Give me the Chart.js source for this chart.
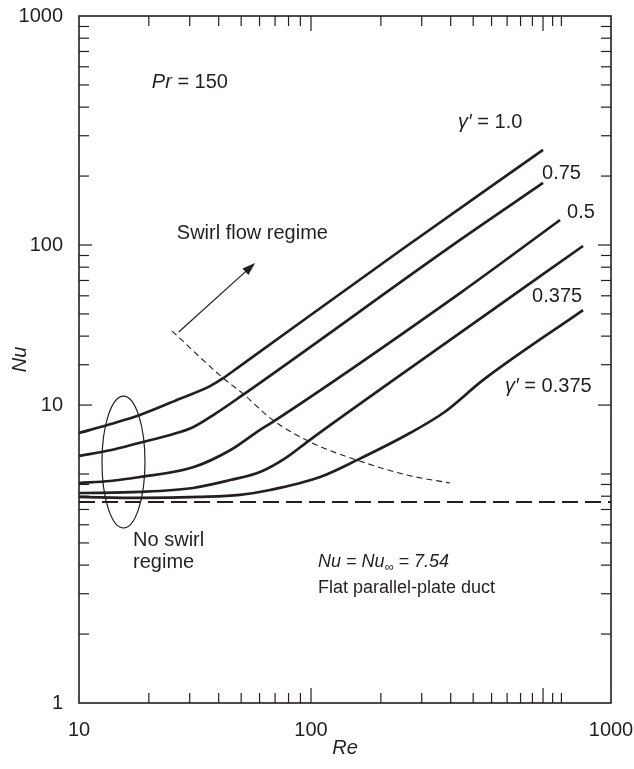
<!DOCTYPE html>
<html>
<head>
<meta charset="utf-8">
<script src="https://cdn.jsdelivr.net/npm/chart.js@4.4.1/dist/chart.umd.min.js"></script>
<style>
  html, body { margin: 0; padding: 0; background: #fff; }
  #wrap { width: 634px; height: 769px; }
</style>
</head>
<body>
<div id="wrap"><canvas id="nuChart" width="634" height="769"></canvas></div>
<script>
// Nu vs Re for swirl flow between parallel plates, Pr = 150
const reMin = 10, reMax = 1963;
const nuMin = 1, nuMax = 1000;

const reG100 = [10, 13.6, 18.3, 27.2, 36.7, 41.3, 49.4, 242, 1000];
const nuG100 = [15.1, 16.5, 18.1, 21.3, 24.2, 26.0, 29.6, 94.4, 260];

const reG075 = [10, 13.6, 18.3, 24.7, 31.0, 38.6, 49.4, 439, 1000];
const nuG075 = [12.0, 12.7, 13.7, 14.8, 16.0, 18.3, 21.7, 105.2, 186.6];

const reG050 = [10, 13.6, 18.3, 31.0, 44.8, 60.3, 68.5, 439, 1184];
const nuG050 = [9.13, 9.32, 9.70, 10.7, 12.7, 15.6, 16.9, 61.7, 128.6];

const reG0375 = [10, 18.3, 31.0, 44.8, 60.3, 77.3, 99.0, 439, 1487];
const nuG0375 = [8.26, 8.35, 8.69, 9.41, 10.2, 11.7, 14.1, 41.3, 99.0];

const reLow = [10, 18.3, 33.2, 49.4, 66.6, 109.4, 157.8, 267, 378, 551, 1487];
const nuLow = [7.94, 7.86, 7.94, 8.10, 8.51, 9.70, 11.5, 15.1, 18.7, 25.7, 52.0];

// boundary between the no-swirl and swirl regimes
const reEdge = [25.2, 41.3, 50.4, 68.5, 99.0, 157.8, 259, 397];
const nuEdge = [42.1, 26.5, 22.6, 17.2, 13.8, 11.5, 9.9, 9.13];

const nuFlat = 7.54;

// tick marks
const reMinorTicks = [20, 30, 40, 50, 60, 70, 80, 90, 200, 300, 400, 500, 600, 700, 800, 900, 1100, 1200];
const reMajorTicks = [100, 1000];
const nuMinorTicks = [2, 3, 4, 5, 6, 7, 8, 9, 10, 30, 40, 50, 60, 70, 80, 90, 200, 300, 400, 500, 600, 700, 800, 900];
const nuMajorTicks = [20, 100];

// axis numbers
const reLabelAt = [10, 100, reMax];
const reLabelText = ['10', '100', '1000'];
const nuLabelAt = [1, 20, 100, 1000];
const nuLabelText = ['1', '10', '100', '1000'];

const ink = '#231f20';
const family = '"Liberation Sans", Arial, Helvetica, sans-serif';

const pts = (xs, ys) => xs.map((v, i) => ({ x: v, y: ys[i] }));

function curve(xs, ys) {
  return {
    data: pts(xs, ys),
    borderColor: ink,
    borderWidth: 2.7,
    pointRadius: 0,
    cubicInterpolationMode: 'monotone',
    fill: false
  };
}

function labelsFor(values) {
  return (scale) => {
    scale.ticks = values.map(v => ({ value: v }));
  };
}

function textFor(values, texts) {
  return (value) => {
    const i = values.findIndex(v => Math.abs(v - value) / v < 1e-6);
    return i >= 0 ? texts[i] : '';
  };
}

function drawParts(ctx, x, y, parts, size) {
  let cx = x;
  parts.forEach(p => {
    const s = p.sub ? size * 0.7 : size;
    ctx.font = (p.italic ? 'italic ' : '') + s + 'px ' + family;
    ctx.fillText(p.t, cx, p.sub ? y + size * 0.3 : y);
    cx += ctx.measureText(p.t).width;
  });
}

const notes = {
  id: 'notes',
  afterDatasetsDraw(chart) {
    const { ctx, chartArea: a, scales } = chart;
    const xs = scales.x, ys = scales.y;
    const px = v => xs.getPixelForValue(v);
    const py = v => ys.getPixelForValue(v);
    const seg = (x1, y1, x2, y2) => {
      ctx.beginPath(); ctx.moveTo(x1, y1); ctx.lineTo(x2, y2); ctx.stroke();
    };

    ctx.save();
    ctx.strokeStyle = ink;
    ctx.fillStyle = ink;

    // inward ticks on all four sides
    ctx.lineWidth = 1.2;
    const tickRe = (v, len) => {
      const p = px(v);
      seg(p, a.bottom, p, a.bottom - len);
      seg(p, a.top, p, a.top + len);
    };
    const tickNu = (v, len) => {
      const p = py(v);
      seg(a.left, p, a.left + len, p);
      seg(a.right, p, a.right - len, p);
    };
    reMinorTicks.forEach(v => tickRe(v, 10));
    reMajorTicks.forEach(v => tickRe(v, 15));
    nuMinorTicks.forEach(v => tickNu(v, 10));
    nuMajorTicks.forEach(v => tickNu(v, 13));

    // frame
    ctx.lineWidth = 1.6;
    ctx.strokeRect(a.left, a.top, a.right - a.left, a.bottom - a.top);

    // no-swirl ellipse
    ctx.lineWidth = 1.2;
    const l = px(12.56), r = px(19.25), t = py(21.9), b = py(5.81);
    ctx.beginPath();
    ctx.ellipse((l + r) / 2, (t + b) / 2, (r - l) / 2, (b - t) / 2, 0, 0, Math.PI * 2);
    ctx.stroke();

    // arrow into the swirl region
    const x1 = px(26.9), y1 = py(41.7), x2 = px(57.4), y2 = py(83.4);
    const ang = Math.atan2(y2 - y1, x2 - x1);
    seg(x1, y1, x2 - 8 * Math.cos(ang), y2 - 8 * Math.sin(ang));
    ctx.beginPath();
    ctx.moveTo(x2, y2);
    ctx.lineTo(x2 - 13 * Math.cos(ang) + 4.5 * Math.sin(ang), y2 - 13 * Math.sin(ang) - 4.5 * Math.cos(ang));
    ctx.lineTo(x2 - 13 * Math.cos(ang) - 4.5 * Math.sin(ang), y2 - 13 * Math.sin(ang) + 4.5 * Math.cos(ang));
    ctx.closePath();
    ctx.fill();

    // text
    ctx.textAlign = 'left';
    ctx.textBaseline = 'middle';
    const gam = [{ t: 'γ′', italic: true }];
    drawParts(ctx, px(20.6), py(515), [{ t: 'Pr', italic: true }, { t: ' = 150' }], 20);
    drawParts(ctx, px(430), py(344), gam.concat([{ t: ' = 1.0' }]), 20);
    drawParts(ctx, px(990), py(206), [{ t: '0.75' }], 20);
    drawParts(ctx, px(1269), py(139), [{ t: '0.5' }], 20);
    drawParts(ctx, px(897), py(59.3), [{ t: '0.375' }], 20);
    drawParts(ctx, px(686), py(24.0), gam.concat([{ t: ' = 0.375' }]), 20);
    drawParts(ctx, px(26.4), py(112.8), [{ t: 'Swirl flow regime' }], 20);
    drawParts(ctx, px(17.1), py(5.15), [{ t: 'No swirl' }], 20);
    drawParts(ctx, px(17.1), py(4.09), [{ t: 'regime' }], 20);
    drawParts(ctx, px(107.2), py(4.13), [
      { t: 'Nu = Nu', italic: true }, { t: '∞', italic: true, sub: true }, { t: ' = 7.54', italic: true }
    ], 18);
    drawParts(ctx, px(107.2), py(3.18), [{ t: 'Flat parallel-plate duct' }], 18);

    ctx.restore();
  }
};

new Chart(document.getElementById('nuChart'), {
  type: 'line',
  data: {
    datasets: [
      curve(reG100, nuG100),
      curve(reG075, nuG075),
      curve(reG050, nuG050),
      curve(reG0375, nuG0375),
      curve(reLow, nuLow),
      {
        data: pts(reEdge, nuEdge),
        borderColor: ink,
        borderWidth: 1.1,
        borderDash: [6, 4],
        pointRadius: 0,
        cubicInterpolationMode: 'monotone',
        fill: false
      },
      {
        data: pts([reMin, reMax], [nuFlat, nuFlat]),
        borderColor: ink,
        borderWidth: 2,
        borderDash: [16, 7],
        pointRadius: 0,
        fill: false
      }
    ]
  },
  options: {
    responsive: false,
    animation: false,
    layout: { padding: { top: 16, right: 23, left: 0, bottom: 0 } },
    plugins: { legend: { display: false }, tooltip: { enabled: false } },
    scales: {
      x: {
        type: 'logarithmic',
        min: reMin,
        max: reMax,
        grid: { display: false },
        border: { display: false },
        afterFit: (s) => { s.height = 66; s.paddingLeft = 0; s.paddingRight = 0; },
        afterBuildTicks: labelsFor(reLabelAt),
        ticks: {
          autoSkip: false,
          maxRotation: 0,
          padding: 7,
          color: ink,
          font: { family: family, size: 20 },
          callback: textFor(reLabelAt, reLabelText)
        },
        title: {
          display: true,
          text: 'Re',
          color: ink,
          font: { family: family, size: 20, style: 'italic' },
          padding: { top: 0, bottom: 9 }
        }
      },
      y: {
        type: 'logarithmic',
        min: nuMin,
        max: nuMax,
        grid: { display: false },
        border: { display: false },
        afterFit: (s) => { s.width = 79; s.paddingTop = 0; s.paddingBottom = 0; },
        afterBuildTicks: labelsFor(nuLabelAt),
        ticks: {
          autoSkip: false,
          padding: 8,
          color: ink,
          font: { family: family, size: 20 },
          callback: textFor(nuLabelAt, nuLabelText)
        },
        title: {
          display: true,
          text: 'Nu',
          color: ink,
          font: { family: family, size: 20, style: 'italic' },
          padding: { top: 8, bottom: 0 }
        }
      }
    }
  },
  plugins: [notes]
});
</script>
</body>
</html>
